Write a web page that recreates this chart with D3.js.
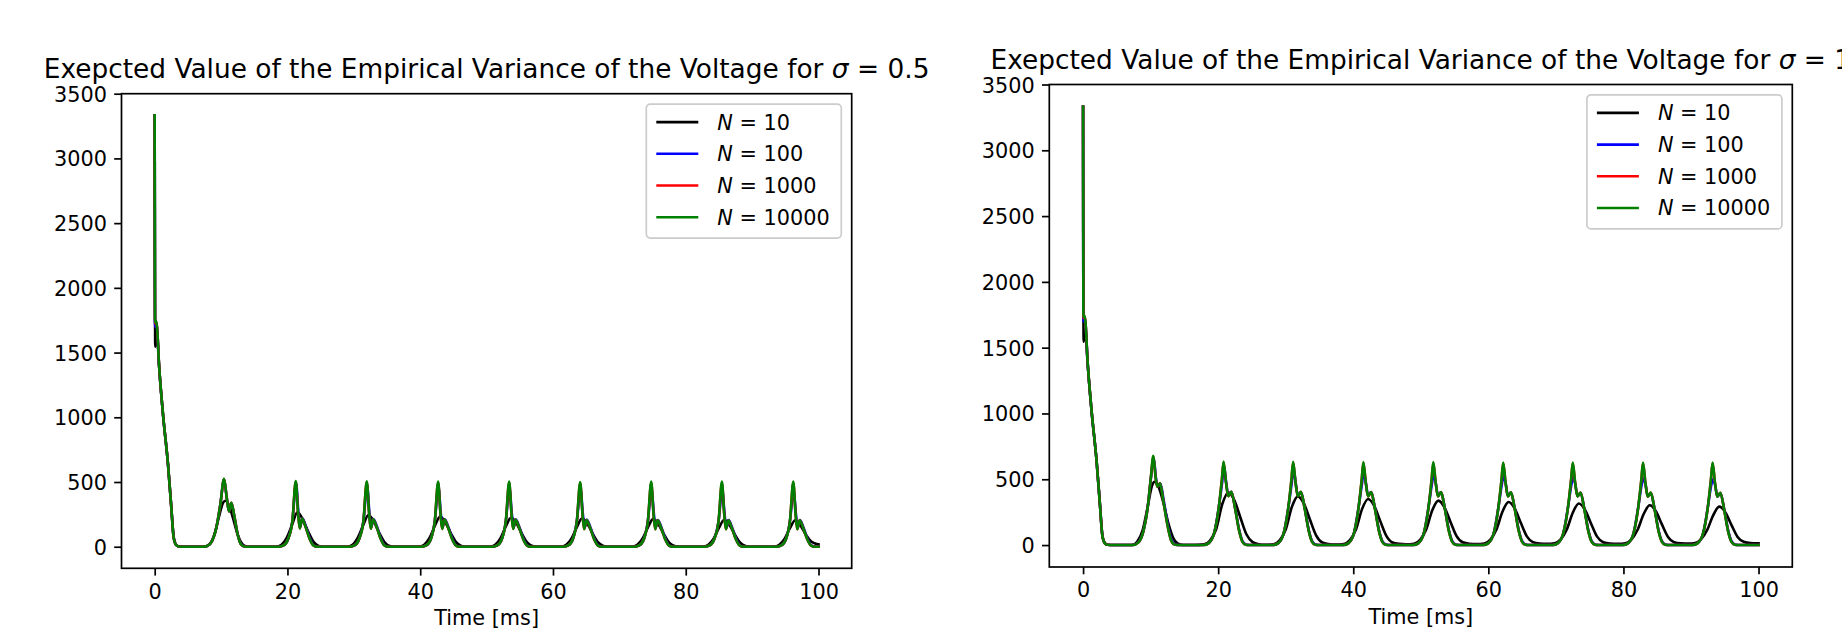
<!DOCTYPE html>
<html>
<head>
<meta charset="utf-8">
<script src="https://cdn.jsdelivr.net/npm/d3@7"></script>
<style>
  html, body { margin: 0; padding: 0; background: #fff; }
  svg { display: block; font-family: "DejaVu Sans", sans-serif; }
</style>
</head>
<body>
<svg id="chart" width="1842" height="631"></svg>
<script>
// ---------------- DATA ----------------
const seriesNames = ["N = 10", "N = 100", "N = 1000", "N = 10000"];
const seriesN = ["10", "100", "1000", "10000"];
const seriesColors = ["#000000", "#0000ff", "#ff0000", "#008000"];
const xTicks = [0, 20, 40, 60, 80, 100];
const yTicks = [0, 500, 1000, 1500, 2000, 2500, 3000, 3500];
const titles = ["0.5", "1"];
const xLabel = "Time [ms]";

// Left panel (sigma = 0.5): [time ms, value]
const left_N10 = [
  [0,3333],[0.08,1545],[0.2,1600],[0.35,1640],[0.65,1400],[1.25,1020],[2.0,640],[2.5,310],[2.85,80],[3.2,18],[3.6,3],[4.5,0],[7.0,0],
  [7.6,2],[8.3,22],[9.0,95],[9.7,235],[10.3,340],[10.65,355],[11.2,320],[11.8,220],[12.4,110],[13.0,35],[13.6,6],[14.3,0],
  [18.3,0],[19.1,15],[19.9,70],[20.7,170],[21.5,265],[22.3,212],[23.1,120],[23.9,40],[24.7,6],[25.4,0],
  [29.0,0],[29.8,15],[30.6,70],[31.4,165],[32.2,245],[33.0,196],[33.8,110],[34.6,37],[35.4,6],[36.1,0],
  [39.8,0],[40.6,15],[41.4,68],[42.2,160],[43.0,233],[43.8,186],[44.6,105],[45.4,35],[46.2,6],[46.9,0],
  [50.5,0],[51.3,15],[52.1,66],[52.9,156],[53.7,226],[54.5,181],[55.3,102],[56.1,34],[56.9,6],[57.6,0],
  [61.2,0],[62.0,15],[62.8,65],[63.6,152],[64.4,220],[65.2,176],[66.0,99],[66.8,33],[67.6,6],[68.3,0],
  [71.9,0],[72.7,15],[73.5,64],[74.3,149],[75.1,215],[75.9,172],[76.7,97],[77.5,32],[78.3,6],[79.0,0],
  [82.6,0],[83.4,15],[84.2,62],[85.0,145],[85.8,208],[86.6,166],[87.4,94],[88.2,31],[89.0,6],[89.7,0],
  [93.3,0],[94.1,15],[94.9,62],[95.7,143],[96.5,204],[97.3,163],[98.1,92],[98.9,40],[99.5,25],[100,18]
];
const left_N100 = [
  [0,3333],[0.05,1700],[0.2,1720],[0.35,1690],[0.65,1410],[1.25,1025],[2.0,640],[2.5,305],[2.85,74],[3.2,15],[3.6,2],[4.5,0],[7.2,0],
  [7.9,6],[8.6,40],[9.3,150],[9.9,330],[10.45,520],[10.85,378],[11.2,275],[11.55,338],[12.0,234],[12.5,96],[13.0,20],[13.6,0],
  [18.7,0],[19.4,10],[20.1,60],[20.75,200],[21.3,490],[21.65,262],[21.9,150],[22.25,220],[22.8,152],[23.4,62],[24.0,9],[24.6,0],
  [29.4,0],[30.1,10],[30.8,60],[31.45,200],[32.0,470],[32.35,258],[32.6,148],[32.95,214],[33.5,152],[34.1,62],[34.7,9],[35.3,0],
  [40.2,0],[40.9,10],[41.6,60],[42.2,200],[42.75,460],[43.1,258],[43.35,146],[43.7,212],[44.25,150],[44.85,62],[45.45,9],[46.0,0],
  [50.9,0],[51.6,10],[52.3,60],[52.9,200],[53.45,452],[53.8,255],[54.05,146],[54.4,210],[54.95,150],[55.55,62],[56.15,9],[56.7,0],
  [61.6,0],[62.3,10],[63.0,60],[63.6,200],[64.15,445],[64.5,254],[64.75,144],[65.1,208],[65.65,148],[66.25,60],[66.85,9],[67.4,0],
  [72.3,0],[73.0,10],[73.7,60],[74.3,200],[74.85,440],[75.2,254],[75.45,144],[75.8,207],[76.35,147],[76.95,60],[77.55,9],[78.1,0],
  [82.9,0],[83.6,10],[84.3,60],[84.95,200],[85.5,435],[85.85,253],[86.1,143],[86.45,206],[87.0,147],[87.6,60],[88.2,9],[88.8,0],
  [93.7,0],[94.4,10],[95.1,60],[95.7,200],[96.25,430],[96.6,253],[96.85,143],[97.2,206],[97.75,147],[98.35,60],[98.95,9],[99.5,1],[100,0]
];
const left_N1000 = [
  [0,3333],[0.05,1725],[0.2,1738],[0.35,1698],[0.65,1413],[1.25,1027],[2.0,640],[2.5,304],[2.85,72],[3.2,15],[3.6,2],[4.5,0],[7.2,0],
  [7.9,6],[8.6,40],[9.3,150],[9.9,330],[10.45,522],[10.85,380],[11.2,272],[11.55,340],[12.0,235],[12.5,95],[13.0,18],[13.6,0],
  [18.7,0],[19.4,10],[20.1,60],[20.75,200],[21.25,502],[21.6,260],[21.85,142],[22.2,218],[22.75,150],[23.35,60],[23.95,8],[24.5,0],
  [29.4,0],[30.1,10],[30.8,60],[31.45,200],[31.95,498],[32.3,255],[32.55,140],[32.9,212],[33.45,150],[34.05,60],[34.65,8],[35.2,0],
  [40.2,0],[40.9,10],[41.6,60],[42.2,200],[42.7,495],[43.05,255],[43.3,138],[43.65,210],[44.2,148],[44.8,60],[45.4,8],[45.9,0],
  [50.9,0],[51.6,10],[52.3,60],[52.9,200],[53.4,494],[53.75,252],[54.0,138],[54.35,208],[54.9,148],[55.5,60],[56.1,8],[56.6,0],
  [61.6,0],[62.3,10],[63.0,60],[63.6,200],[64.1,492],[64.45,250],[64.7,136],[65.05,206],[65.6,146],[66.2,58],[66.8,8],[67.3,0],
  [72.3,0],[73.0,10],[73.7,60],[74.3,200],[74.8,492],[75.15,250],[75.4,136],[75.75,205],[76.3,145],[76.9,58],[77.5,8],[78.0,0],
  [82.9,0],[83.6,10],[84.3,60],[84.95,200],[85.45,490],[85.8,250],[86.05,135],[86.4,204],[86.95,145],[87.55,58],[88.15,8],[88.7,0],
  [93.7,0],[94.4,10],[95.1,60],[95.7,200],[96.2,490],[96.55,250],[96.8,135],[97.15,204],[97.7,145],[98.3,58],[98.9,8],[99.4,0],[100,0]
];
const left_N10000 = [
  [0,3333],[0.05,1735],[0.2,1745],[0.35,1700],[0.65,1414],[1.25,1027],[2.0,640],[2.5,304],[2.85,72],[3.2,15],[3.6,2],[4.5,0],[7.2,0],
  [7.9,6],[8.6,40],[9.3,150],[9.9,330],[10.45,525],[10.85,380],[11.2,272],[11.55,340],[12.0,235],[12.5,95],[13.0,18],[13.6,0],
  [18.7,0],[19.4,10],[20.1,60],[20.75,200],[21.25,508],[21.6,260],[21.85,142],[22.2,218],[22.75,150],[23.35,60],[23.95,8],[24.5,0],
  [29.4,0],[30.1,10],[30.8,60],[31.45,200],[31.95,505],[32.3,255],[32.55,140],[32.9,212],[33.45,150],[34.05,60],[34.65,8],[35.2,0],
  [40.2,0],[40.9,10],[41.6,60],[42.2,200],[42.7,503],[43.05,255],[43.3,138],[43.65,210],[44.2,148],[44.8,60],[45.4,8],[45.9,0],
  [50.9,0],[51.6,10],[52.3,60],[52.9,200],[53.4,503],[53.75,252],[54.0,138],[54.35,208],[54.9,148],[55.5,60],[56.1,8],[56.6,0],
  [61.6,0],[62.3,10],[63.0,60],[63.6,200],[64.1,500],[64.45,250],[64.7,136],[65.05,206],[65.6,146],[66.2,58],[66.8,8],[67.3,0],
  [72.3,0],[73.0,10],[73.7,60],[74.3,200],[74.8,503],[75.15,250],[75.4,136],[75.75,205],[76.3,145],[76.9,58],[77.5,8],[78.0,0],
  [82.9,0],[83.6,10],[84.3,60],[84.95,200],[85.45,503],[85.8,250],[86.05,135],[86.4,204],[86.95,145],[87.55,58],[88.15,8],[88.7,0],
  [93.7,0],[94.4,10],[95.1,60],[95.7,200],[96.2,503],[96.55,250],[96.8,135],[97.15,204],[97.7,145],[98.3,58],[98.9,8],[99.4,0],[100,0]
];

// Right panel (sigma = 1): [time ms, value]
const right_N10 = [
  [0,3333],[0.08,1545],[0.2,1600],[0.35,1640],[0.65,1400],[1.25,1020],[2.0,640],[2.5,310],[2.85,80],[3.2,18],[3.6,3],[4.5,0],[6.8,0],
  [7.4,3],[8.0,25],[8.8,110],[9.6,300],[10.2,450],[10.6,481],[11.2,440],[11.9,320],[12.6,170],[13.3,60],[14.0,12],[14.8,1],[16.5,0],
  [17.9,5],[18.8,35],[19.7,120],[20.6,310],[21.5,400],[22.4,340],[23.3,208],[24.2,80],[25.1,22],[26.0,6],[26.9,2],
  [28.2,6],[29.1,36],[30.0,118],[30.9,288],[31.8,370],[32.7,315],[33.6,192],[34.5,74],[35.4,20],[36.3,8],[37.4,4],
  [38.6,8],[39.5,38],[40.4,118],[41.3,273],[42.2,350],[43.1,298],[44.0,182],[44.9,70],[45.8,20],[46.8,9],[47.8,6],
  [49.0,10],[49.9,40],[50.8,118],[51.7,264],[52.6,338],[53.5,287],[54.4,176],[55.3,68],[56.2,21],[57.2,10],[58.3,8],
  [59.4,12],[60.3,42],[61.2,118],[62.1,255],[63.0,327],[63.9,278],[64.8,170],[65.7,66],[66.6,22],[67.6,11],[68.7,9],
  [69.8,13],[70.7,43],[71.6,117],[72.5,246],[73.4,316],[74.3,269],[75.2,164],[76.1,64],[77.0,22],[78.0,12],[79.2,10],
  [80.3,14],[81.2,44],[82.1,116],[83.0,236],[83.9,302],[84.8,257],[85.7,157],[86.6,62],[87.5,22],[88.5,13],[89.7,11],
  [90.6,15],[91.5,45],[92.4,115],[93.3,228],[94.2,292],[95.1,248],[96.0,152],[96.9,62],[97.8,25],[98.8,15],[100,13]
];
const right_N100 = [
  [0,3333],[0.05,1700],[0.2,1720],[0.35,1690],[0.65,1410],[1.25,1025],[2.0,640],[2.5,305],[2.85,74],[3.2,15],[3.6,2],[4.5,0],[6.8,0],
  [7.4,1],[8.2,22],[8.9,100],[9.6,300],[10.05,510],[10.45,665],[10.8,505],[11.05,445],[11.45,468],[11.95,335],[12.55,155],[13.05,45],[13.6,6],[14.2,0],
  [17.8,0],[18.6,15],[19.4,90],[20.1,290],[20.6,480],[20.85,600],[21.2,470],[21.5,378],[21.95,405],[22.5,285],[23.1,118],[23.6,30],[24.1,4],[24.6,0],
  [28.1,0],[28.9,15],[29.7,90],[30.4,290],[30.9,475],[31.15,575],[31.5,465],[31.8,376],[32.25,403],[32.8,284],[33.4,118],[33.9,30],[34.4,4],[34.9,0],
  [38.5,0],[39.3,15],[40.1,90],[40.8,290],[41.3,470],[41.55,555],[41.9,462],[42.2,375],[42.65,402],[43.2,283],[43.8,116],[44.3,30],[44.8,4],[45.3,0],
  [48.85,0],[49.65,15],[50.45,90],[51.15,290],[51.65,465],[51.9,540],[52.25,460],[52.55,374],[53.0,401],[53.55,282],[54.15,116],[54.65,30],[55.15,4],[55.6,0],
  [59.2,0],[60.0,15],[60.8,90],[61.5,290],[62.0,462],[62.25,530],[62.6,458],[62.9,373],[63.35,400],[63.9,281],[64.5,115],[65.0,30],[65.5,4],[66.0,0],
  [69.5,0],[70.3,15],[71.1,90],[71.8,290],[72.3,460],[72.55,520],[72.9,455],[73.2,372],[73.65,398],[74.2,280],[74.8,114],[75.3,30],[75.8,4],[76.3,0],
  [79.9,0],[80.7,15],[81.5,90],[82.2,290],[82.7,458],[82.95,510],[83.3,452],[83.6,370],[84.05,396],[84.6,279],[85.2,113],[85.7,30],[86.2,4],[86.7,0],
  [90.2,0],[91.0,15],[91.8,90],[92.5,290],[93.0,455],[93.25,500],[93.6,450],[93.9,368],[94.35,395],[94.9,278],[95.5,112],[96.0,30],[96.5,4],[97.0,0],[100,0]
];
const right_N1000 = [
  [0,3333],[0.05,1725],[0.2,1738],[0.35,1698],[0.65,1413],[1.25,1027],[2.0,640],[2.5,304],[2.85,72],[3.2,15],[3.6,2],[4.5,0],[6.8,0],
  [7.4,0],[8.2,20],[8.9,100],[9.6,300],[10.05,520],[10.4,672],[10.75,510],[11.0,443],[11.4,469],[11.9,330],[12.5,150],[13.0,40],[13.5,5],[14.0,0],
  [17.8,0],[18.6,15],[19.4,90],[20.1,290],[20.55,500],[20.8,628],[21.15,480],[21.5,372],[21.95,405],[22.5,280],[23.1,110],[23.6,25],[24.1,2],[24.5,0],
  [28.1,0],[28.9,15],[29.7,90],[30.4,290],[30.85,500],[31.1,627],[31.45,478],[31.8,371],[32.25,404],[32.8,279],[33.4,110],[33.9,25],[34.4,2],[34.8,0],
  [38.5,0],[39.3,15],[40.1,90],[40.8,290],[41.25,498],[41.5,624],[41.85,476],[42.2,370],[42.65,403],[43.2,278],[43.8,108],[44.3,25],[44.8,2],[45.2,0],
  [48.85,0],[49.65,15],[50.45,90],[51.15,290],[51.6,498],[51.85,624],[52.2,476],[52.55,370],[53.0,402],[53.55,277],[54.15,108],[54.65,25],[55.15,2],[55.55,0],
  [59.2,0],[60.0,15],[60.8,90],[61.5,290],[61.95,497],[62.2,622],[62.55,475],[62.9,369],[63.35,401],[63.9,276],[64.5,107],[65.0,25],[65.5,2],[65.9,0],
  [69.5,0],[70.3,15],[71.1,90],[71.8,290],[72.25,497],[72.5,622],[72.85,475],[73.2,369],[73.65,400],[74.2,275],[74.8,106],[75.3,24],[75.8,2],[76.2,0],
  [79.9,0],[80.7,15],[81.5,90],[82.2,290],[82.65,497],[82.9,622],[83.25,475],[83.6,368],[84.05,399],[84.6,274],[85.2,105],[85.7,24],[86.2,2],[86.6,0],
  [90.2,0],[91.0,15],[91.8,90],[92.5,290],[92.95,497],[93.2,622],[93.55,475],[93.9,368],[94.35,398],[94.9,273],[95.5,104],[96.0,24],[96.5,2],[96.9,0],[100,0]
];
const right_N10000 = [
  [0,3333],[0.05,1735],[0.2,1745],[0.35,1700],[0.65,1414],[1.25,1027],[2.0,640],[2.5,304],[2.85,72],[3.2,15],[3.6,2],[4.5,0],[6.8,0],
  [7.4,0],[8.2,20],[8.9,100],[9.6,300],[10.05,520],[10.4,678],[10.75,510],[11.0,443],[11.4,470],[11.9,330],[12.5,150],[13.0,40],[13.5,5],[14.0,0],
  [17.8,0],[18.6,15],[19.4,90],[20.1,290],[20.55,500],[20.8,635],[21.15,480],[21.5,372],[21.95,405],[22.5,280],[23.1,110],[23.6,25],[24.1,2],[24.5,0],
  [28.1,0],[28.9,15],[29.7,90],[30.4,290],[30.85,500],[31.1,633],[31.45,478],[31.8,371],[32.25,404],[32.8,279],[33.4,110],[33.9,25],[34.4,2],[34.8,0],
  [38.5,0],[39.3,15],[40.1,90],[40.8,290],[41.25,498],[41.5,630],[41.85,476],[42.2,370],[42.65,403],[43.2,278],[43.8,108],[44.3,25],[44.8,2],[45.2,0],
  [48.85,0],[49.65,15],[50.45,90],[51.15,290],[51.6,498],[51.85,630],[52.2,476],[52.55,370],[53.0,402],[53.55,277],[54.15,108],[54.65,25],[55.15,2],[55.55,0],
  [59.2,0],[60.0,15],[60.8,90],[61.5,290],[61.95,497],[62.2,628],[62.55,475],[62.9,369],[63.35,401],[63.9,276],[64.5,107],[65.0,25],[65.5,2],[65.9,0],
  [69.5,0],[70.3,15],[71.1,90],[71.8,290],[72.25,497],[72.5,628],[72.85,475],[73.2,369],[73.65,400],[74.2,275],[74.8,106],[75.3,24],[75.8,2],[76.2,0],
  [79.9,0],[80.7,15],[81.5,90],[82.2,290],[82.65,497],[82.9,628],[83.25,475],[83.6,368],[84.05,399],[84.6,274],[85.2,105],[85.7,24],[86.2,2],[86.6,0],
  [90.2,0],[91.0,15],[91.8,90],[92.5,290],[92.95,497],[93.2,628],[93.55,475],[93.9,368],[94.35,398],[94.9,273],[95.5,104],[96.0,24],[96.5,2],[96.9,0],[100,0]
];

// ---------------- DRAWING ----------------
const svg = d3.select("#chart");
const TICK_FONT = 20.8;
const TITLE_FONT = 26.4;

const panels = [
  { box: { x0: 121.5, x1: 851.7, y0: 93.7, y1: 568.3 }, sigma: titles[0],
    series: [left_N10, left_N100, left_N1000, left_N10000] },
  { box: { x0: 1049.3, x1: 1792.3, y0: 84.5, y1: 567.0 }, sigma: titles[1],
    series: [right_N10, right_N100, right_N1000, right_N10000] }
];

panels.forEach((p, pi) => {
  const b = p.box;
  const x = d3.scaleLinear().domain([-5, 105]).range([b.x0, b.x1]);
  const y = d3.scaleLinear().domain([-166.7, 3500]).range([b.y1, b.y0]);
  const g = svg.append("g");

  const clipId = "clip" + pi;
  svg.append("clipPath").attr("id", clipId).append("rect")
    .attr("x", b.x0).attr("y", b.y0).attr("width", b.x1 - b.x0).attr("height", b.y1 - b.y0);

  const line = d3.line().x(d => x(d[0])).y(d => y(d[1])).curve(d3.curveMonotoneX);
  const lg = g.append("g").attr("clip-path", `url(#${clipId})`);
  p.series.forEach((s, si) => {
    lg.append("path").datum(s).attr("d", line)
      .attr("fill", "none").attr("stroke", seriesColors[si])
      .attr("stroke-width", 2.6).attr("stroke-linejoin", "round").attr("stroke-linecap", "square");
  });

  // axes
  const xAxis = d3.axisBottom(x).tickValues(xTicks).tickSize(7.3).tickPadding(7.3).tickFormat(d3.format("d"));
  const yAxis = d3.axisLeft(y).tickValues(yTicks).tickSize(7.3).tickPadding(7.3).tickFormat(d3.format("d"));
  const gx = g.append("g").attr("transform", `translate(0,${b.y1})`).call(xAxis);
  const gy = g.append("g").attr("transform", `translate(${b.x0},0)`).call(yAxis);
  [gx, gy].forEach(ax => {
    ax.select(".domain").remove();
    ax.selectAll(".tick line").attr("stroke", "#000").attr("stroke-width", 1.7);
    ax.selectAll(".tick text").attr("fill", "#000").attr("font-size", TICK_FONT)
      .attr("font-family", "DejaVu Sans");
  });
  gx.selectAll(".tick text").attr("dy", "0.76em");
  gy.selectAll(".tick text").attr("dy", "0.36em");

  // spines
  g.append("rect").attr("x", b.x0).attr("y", b.y0).attr("width", b.x1 - b.x0).attr("height", b.y1 - b.y0)
    .attr("fill", "none").attr("stroke", "#000").attr("stroke-width", 1.7);

  // title
  const cx = (b.x0 + b.x1) / 2;
  const t = g.append("text").attr("x", cx).attr("y", b.y0 - 15.4)
    .attr("text-anchor", "middle").attr("font-size", TITLE_FONT).attr("fill", "#000");
  t.append("tspan").text("Exepcted Value of the Empirical Variance of the Voltage for ");
  t.append("tspan").attr("font-style", "italic").text("σ");
  t.append("tspan").text(" = " + p.sigma);

  // x label
  g.append("text").attr("x", cx).attr("y", b.y1 + 57).attr("text-anchor", "middle")
    .attr("font-size", TICK_FONT).attr("fill", "#000").text(xLabel);

  // legend
  const lw = 195, lh = 134;
  const lx = b.x1 - 10.4 - lw, ly = b.y0 + 10.4;
  const leg = g.append("g").attr("transform", `translate(${lx},${ly})`);
  leg.append("rect").attr("width", lw).attr("height", lh).attr("rx", 4).attr("ry", 4)
    .attr("fill", "#fff").attr("fill-opacity", 0.8).attr("stroke", "#cccccc").attr("stroke-width", 1.7);
  seriesNames.forEach((name, i) => {
    const ry = 18 + i * 31.7;
    leg.append("line").attr("x1", 10).attr("x2", 52).attr("y1", ry).attr("y2", ry)
      .attr("stroke", seriesColors[i]).attr("stroke-width", 2.6);
    const tt = leg.append("text").attr("x", 71).attr("y", ry).attr("dy", "0.36em")
      .attr("font-size", TICK_FONT).attr("fill", "#000");
    tt.append("tspan").attr("font-style", "italic").text("N");
    tt.append("tspan").text(" = " + seriesN[i]);
  });
});
</script>
</body>
</html>
